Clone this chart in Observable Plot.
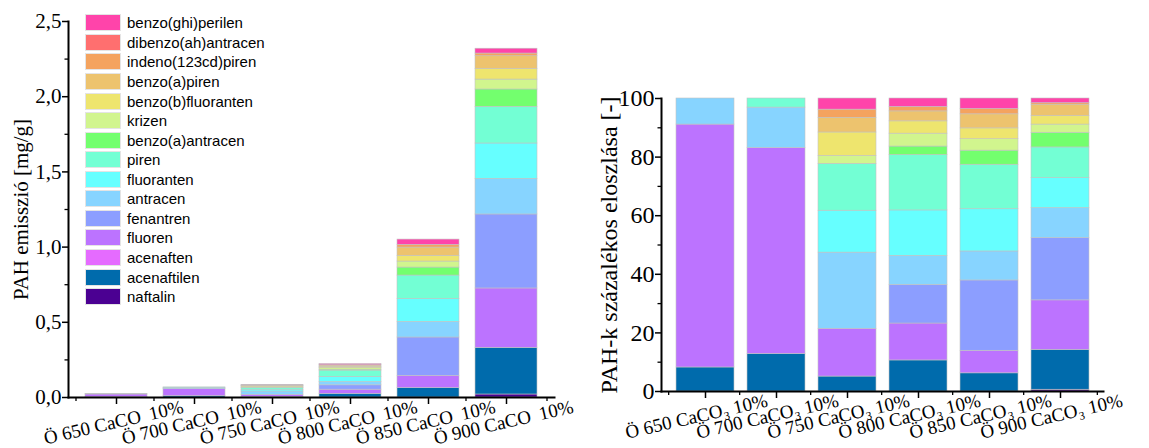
<!DOCTYPE html>
<html><head><meta charset="utf-8">
<script src="https://cdn.jsdelivr.net/npm/d3@7"></script>
<script src="https://cdn.jsdelivr.net/npm/@observablehq/plot@0.6"></script>
<style>
html,body{margin:0;padding:0;background:#fff;}
body{width:1149px;height:448px;overflow:hidden;position:relative;}
#left,#right{position:absolute;top:0;}
#left{left:0;} #right{left:560px;}
#legend{position:absolute;left:85px;top:13px;font-family:"Liberation Sans",Arial,sans-serif;font-size:15px;color:#000;}
.row{display:flex;align-items:center;height:19.57px;}
.sw{width:36px;height:17px;margin-right:6px;box-sizing:border-box;border:1px solid #e4e4e4;}
svg text, svg g{font-family:"Liberation Serif","Times New Roman",serif !important;}
</style></head><body>
<div id="left"></div><div id="right"></div><div id="legend"></div>
<script>
// stack order: bottom -> top
const compounds = ["naftalin","acenaftilen","acenaften","fluoren","fenantren","antracen","fluoranten","piren","benzo(a)antracen","krizen","benzo(b)fluoranten","benzo(a)piren","indeno(123cd)piren","dibenzo(ah)antracen","benzo(ghi)perilen"];
const colors = ["#4B0092","#006BAC","#E56BFF","#BC73FF","#8C9EFF","#87D4FF","#66FFFF","#73FFD4","#73FF6E","#D1F58E","#EEE56E","#EDC36E","#F4A35F","#FF6F6F","#FF44AA"];
const categories = ["Ö 650","Ö 700","Ö 750","Ö 800","Ö 850","Ö 900"];
const leftTickLabels = ["Ö 650 CaCO\u2009 10%","Ö 700 CaCO\u2009 10%","Ö 750 CaCO\u2009 10%","Ö 800 CaCO\u2009 10%","Ö 850 CaCO\u2009 10%","Ö 900 CaCO\u2009 10%"];
const rightTickLabels = ["Ö 650 CaCO₃ 10%","Ö 700 CaCO₃ 10%","Ö 750 CaCO₃ 10%","Ö 800 CaCO₃ 10%","Ö 850 CaCO₃ 10%","Ö 900 CaCO₃ 10%"];

// PAH emission [mg/g], compound order as above
const emission650 = [0, 0.002, 0, 0.018, 0, 0.002, 0, 0, 0, 0, 0, 0, 0, 0, 0];
const emission700 = [0, 0.009, 0, 0.047, 0, 0.009, 0, 0.002, 0, 0, 0, 0, 0, 0, 0];
const emission750 = [0, 0.004, 0, 0.014, 0, 0.022, 0.012, 0.013, 0, 0.002, 0.007, 0.004, 0.002, 0, 0.004];
const emission800 = [0, 0.024, 0, 0.028, 0.029, 0.022, 0.034, 0.042, 0.006, 0.010, 0.009, 0.008, 0.003, 0, 0.007];
const emission850 = [0, 0.062, 0, 0.082, 0.255, 0.104, 0.151, 0.157, 0.053, 0.040, 0.038, 0.055, 0.018, 0, 0.035];
const emission900 = [0.020, 0.310, 0, 0.395, 0.492, 0.237, 0.235, 0.244, 0.115, 0.066, 0.071, 0.084, 0.018, 0, 0.032];

// percentage distribution [%]
const share650 = [0, 8.2, 0, 82.9, 0, 8.9, 0, 0, 0, 0, 0, 0, 0, 0, 0];
const share700 = [0, 12.8, 0, 70.3, 0, 13.8, 0, 3.1, 0, 0, 0, 0, 0, 0, 0];
const share750 = [0, 5.1, 0, 16.3, 0, 26.0, 14.3, 16.0, 0, 2.7, 8.0, 5.0, 2.8, 0, 3.8];
const share800 = [0, 10.6, 0, 12.6, 13.2, 9.9, 15.5, 18.9, 2.9, 4.4, 4.2, 3.4, 1.5, 0, 2.9];
const share850 = [0, 6.2, 0, 7.7, 24.0, 9.9, 14.4, 15.2, 4.8, 3.9, 3.7, 4.8, 1.8, 0, 3.6];
const share900 = [0.6, 13.6, 0, 16.9, 21.3, 10.2, 10.2, 10.5, 5.0, 2.8, 2.9, 3.9, 0.5, 0, 1.6];

const emissions = [emission650, emission700, emission750, emission800, emission850, emission900];
const shares = [share650, share700, share750, share800, share850, share900];

function toRows(series) {
  const rows = [];
  series.forEach((vals, i) => vals.forEach((v, j) => {
    if (v > 0) rows.push({cat: categories[i], compound: compounds[j], value: v});
  }));
  return rows;
}
const leftData = toRows(emissions);
const rightData = toRows(shares);

const serif = "Liberation Serif";

function panel(o) {
  const innerW = o.width - o.marginLeft - o.marginRight;
  const bw = innerW / categories.length;
  return Plot.plot({
    width: o.width, height: 448,
    marginLeft: o.marginLeft, marginRight: o.marginRight, marginTop: o.marginTop, marginBottom: o.marginBottom,
    style: {fontFamily: serif, fontSize: o.tickFont + "px", color: "#000", background: "transparent", overflow: "visible"},
    x: {domain: categories, padding: o.padding, axis: null},
    y: {domain: o.yDomain, axis: null},
    color: {domain: compounds, range: colors},
    marks: [
      Plot.barY(o.data, {x: "cat", y: "value", fill: "compound", order: compounds, stroke: "#c2c2c2", strokeWidth: 0.6}),
      Plot.axisY({ticks: o.major, tickSize: 6, tickPadding: 1, tickFormat: o.fmt, strokeWidth: 1.5, label: null, fontSize: o.tickFont, fontFamily: serif}),
      Plot.axisY({ticks: o.minor, tickSize: 3.5, tickFormat: () => "", strokeWidth: 1.3, label: null}),
      Plot.axisX({tickSize: 7, tickFormat: () => "", strokeWidth: 1.5, label: null}),
      Plot.axisX({tickSize: 4, dx: -bw / 2, tickFormat: () => "", strokeWidth: 1.3, label: null}),
      Plot.axisX({ticks: [categories[categories.length - 1]], tickSize: 4, dx: bw / 2, tickFormat: () => "", strokeWidth: 1.3, label: null}),
      Plot.frame({anchor: "left", stroke: "#000", strokeWidth: 2}),
      Plot.frame({anchor: "bottom", stroke: "#000", strokeWidth: 2}),
      Plot.text(o.tickLabels, {x: (d, i) => categories[i], text: d => d, frameAnchor: "bottom", textAnchor: "middle", lineAnchor: "middle", dx: o.labelDx, dy: o.labelDy, rotate: -13, fontSize: o.labelFont, fontFamily: serif, fill: "#000"}),
      Plot.text([o.yLabel], {text: d => d, frameAnchor: "left", textAnchor: "middle", lineAnchor: "middle", dx: o.yLabelDx, rotate: -90, fontSize: o.yLabelFont, fontFamily: serif, fill: "#000"})
    ]
  });
}

document.getElementById("left").append(panel({
  width: 580, marginLeft: 68, marginRight: 26, marginTop: 21, marginBottom: 51,
  padding: 0.21, yDomain: [0, 2.5], data: leftData,
  major: [0, 0.5, 1, 1.5, 2, 2.5], minor: [0.25, 0.75, 1.25, 1.75, 2.25],
  fmt: d => d.toFixed(1).replace(".", ","), tickFont: 21,
  tickLabels: leftTickLabels, labelFont: 19, labelDx: -3, labelDy: 25,
  yLabel: "PAH emisszió [mg/g]", yLabelDx: -47, yLabelFont: 21
}));

document.getElementById("right").append(panel({
  width: 589, marginLeft: 101, marginRight: 46, marginTop: 98, marginBottom: 57,
  padding: 0.19, yDomain: [0, 100], data: rightData,
  major: [0, 20, 40, 60, 80, 100], minor: [10, 30, 50, 70, 90],
  fmt: d => String(d), tickFont: 24,
  tickLabels: rightTickLabels, labelFont: 19, labelDx: -9, labelDy: 25,
  yLabel: "PAH-k százalékos eloszlása [-]", yLabelDx: -52, yLabelFont: 24
}));

const legend = document.getElementById("legend");
for (let j = compounds.length - 1; j >= 0; j--) {
  const row = document.createElement("div");
  row.className = "row";
  const sw = document.createElement("div");
  sw.className = "sw";
  sw.style.background = colors[j];
  const lab = document.createElement("span");
  lab.textContent = compounds[j];
  row.append(sw, lab);
  legend.append(row);
}
</script>
</body></html>
